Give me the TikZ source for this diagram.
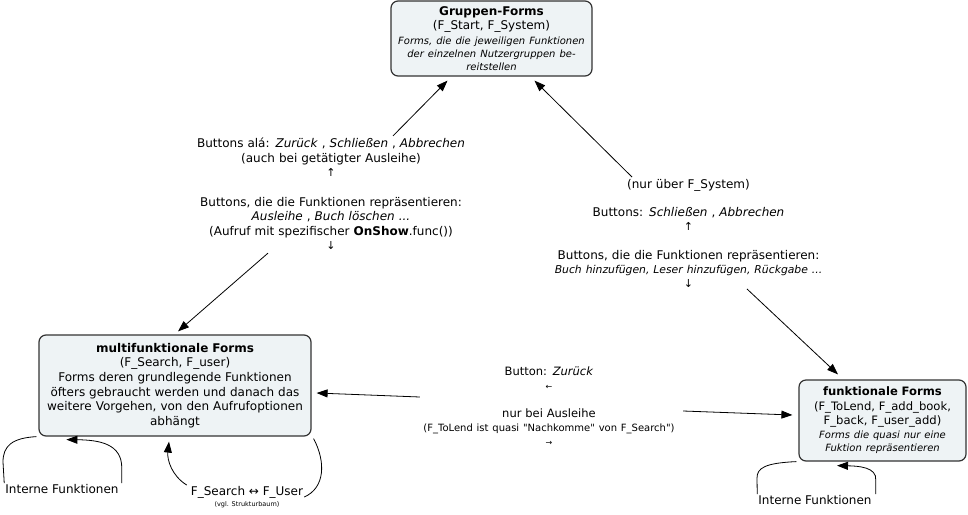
\documentclass[tikz,border=0pt]{standalone}
\usepackage{fontspec}
\setmainfont{DejaVu Sans}[Ligatures=TeXOff]
\usepackage{xcolor}
\usetikzlibrary{arrows.meta}

\definecolor{boxfill}{HTML}{EEF3F5}
\definecolor{boxline}{HTML}{333333}

\newcommand{\fnorm}{\fontsize{12}{14.6}\selectfont}
\newcommand{\fmid}{\fontsize{11.6}{14.6}\selectfont}
\newcommand{\fside}{\fontsize{12}{14.2}\selectfont}
\newcommand{\fcenter}{\fontsize{11.5}{14}\selectfont}
\newcommand{\fital}{\fontsize{10}{13}\selectfont\itshape}
\newcommand{\fsmall}{\fontsize{10}{14}\selectfont}
\newcommand{\ftiny}{\fontsize{6.5}{11}\selectfont}
\newcommand{\farrow}{\fontsize{11}{14}\selectfont}
\newcommand{\fharrow}{\fontsize{8}{14}\selectfont}

\begin{document}
\begin{tikzpicture}[x=1pt,y=-1pt,
	concept/.style={draw=boxline, line width=1.2pt, fill=boxfill, rounded corners=7pt, inner sep=0pt, align=center},
	phrase/.style={inner sep=1pt, align=center},
	conline/.style={line width=0.8pt},
	link/.style={conline, -{Triangle[length=11pt,width=8pt]}}]
	\useasboundingbox (0,0) rectangle (968,514);

	% concepts
	\node[concept, minimum width=201pt, minimum height=75pt, text width=195pt, font=\fnorm] (grp) at (491.5,38.5)
		{\textbf{Gruppen-Forms}\\(F\_Start, F\_System)\par\vspace{2pt}
		{\fital Forms, die die jeweiligen Funktionen\\der einzelnen Nutzergruppen be-\\reitstellen\par}};
	\node[concept, minimum width=272pt, minimum height=101pt, text width=266pt, font=\fnorm] (multi) at (175,385.5)
		{\textbf{multifunktionale Forms}\\(F\_Search, F\_user)\\Forms deren grundlegende Funktionen\\öfters gebraucht werden und danach das\\weitere Vorgehen, von den Aufrufoptionen\\abhängt};
	\node[concept, minimum width=167pt, minimum height=81pt, text width=162pt, font=\fmid] (fkt) at (882.5,420.5)
		{\textbf{funktionale Forms}\\(F\_ToLend, F\_add\_book,\\F\_back, F\_user\_add)\par\vspace{1pt}
		{\fital Forms die quasi nur eine\\Fuktion repräsentieren\par}};

	% linking phrases
	\node[phrase, text width=290pt, font=\fnorm] (lphr) at (331,194)
		{Buttons alá: \textit{Zurück} , \textit{Schließen} , \textit{Abbrechen}\\(auch bei getätigter Ausleihe)\\{\farrow ↑}\\\mbox{}\\
		Buttons, die die Funktionen repräsentieren:\\\textit{Ausleihe} , \textit{Buch löschen ...}\\(Aufruf mit spezifischer \textbf{OnShow}.func())\\{\farrow ↓}};
	\node[phrase, text width=300pt, font=\fside] (rphr) at (688.5,233.5)
		{(nur über F\_System)\\\mbox{}\\Buttons: \textit{Schließen} , \textit{Abbrechen}\\{\farrow ↑}\\\mbox{}\\
		Buttons, die die Funktionen repräsentieren:\\{\fontsize{10.8}{14.2}\selectfont\itshape Buch hinzufügen, Leser hinzufügen, Rückgabe ...}\\{\farrow ↓}};
	\node[phrase, text width=260pt, font=\fcenter] (mid) at (549,406)
		{Button: \textit{Zurück}\\{\fharrow ←}\\\mbox{}\\nur bei Ausleihe\\{\fsmall (F\_ToLend ist quasi "Nachkomme" von F\_Search")}\\{\fharrow →}};
	\node[phrase, font=\fnorm] (intA) at (62,489) {Interne Funktionen};
	\node[phrase, font=\fnorm] (intB) at (815,500) {Interne Funktionen};
	\node[phrase, font=\ftiny] (fsu) at (247,497) {{\fnorm F\_Search ↔ F\_User}\\(vgl. Strukturbaum)};

	% connectors
	\draw[link] ([xshift=62pt,yshift=1pt]lphr.north) -- ([xshift=-44pt,yshift=-4pt]grp.south);
	\draw[link] ([xshift=-63pt,yshift=-2pt]lphr.south) -- ([xshift=3pt,yshift=3pt]multi.north);
	\draw[link] ([xshift=-56.5pt,yshift=1pt]rphr.north) -- ([xshift=43pt,yshift=-4pt]grp.south);
	\draw[link] ([xshift=58.5pt]rphr.south) -- ([xshift=-44.5pt,yshift=5pt]fkt.north);
	\draw[link] ([xshift=2pt,yshift=9pt]mid.west) -- ([xshift=5pt,yshift=-7.5pt]multi.east);
	\draw[link] ([xshift=3pt,yshift=-5pt]mid.east) -- ([xshift=-6pt,yshift=5.5pt]fkt.west);

	% loops
	\draw[conline] ([xshift=-2pt]multi.south west) .. controls (12,438) and (3,446) .. (3,462) -- (intA.north west);
	\draw[link] ([xshift=2pt]intA.north east) -- ++(0,-15) .. controls (122,444) and (100,440) .. ([xshift=28pt,yshift=-3pt]multi.south west);
	\draw[conline] ([xshift=2pt,yshift=-2pt]multi.south east) .. controls (326,462) and (325,488) .. (fsu.east);
	\draw[link] ([xshift=-3pt]fsu.north west) .. controls (172,476) and (167,460) .. ([xshift=-6pt,yshift=-5pt]multi.south);
	\draw[conline] ([xshift=-2pt]fkt.south west) .. controls (765,463) and (757,468) .. (757,478) -- (intB.north west);
	\draw[link] ([xshift=3pt]intB.north east) -- ++(0,-14) .. controls (877,467) and (858,466) .. ([xshift=-45.5pt,yshift=-4pt]fkt.south);
\end{tikzpicture}
\end{document}
